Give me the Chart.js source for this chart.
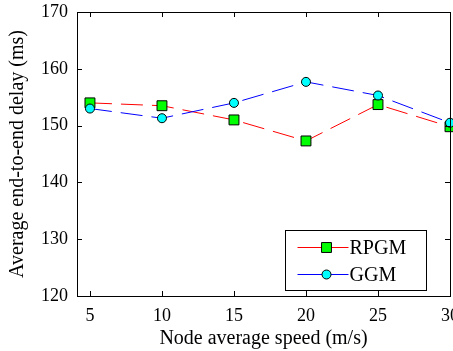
<!DOCTYPE html>
<html>
<head>
<meta charset="utf-8">
<script src="https://cdn.jsdelivr.net/npm/chart.js@4/dist/chart.umd.min.js"></script>
<style>
  html, body { margin: 0; padding: 0; background: #fff; }
  canvas { display: block; }
</style>
</head>
<body>
<canvas id="myChart" width="453" height="351"></canvas>
<script>
var speeds = [5, 10, 15, 20, 25, 30];
var rpgmDelay = [154.0, 153.5, 151.0, 147.3, 153.7, 149.8];
var ggmDelay = [153.0, 151.3, 154.0, 157.7, 155.3, 150.5];
var xTicks = [5, 10, 15, 20, 25, 30];
var yTicks = [120, 130, 140, 150, 160, 170];

var serif = "'Liberation Serif', 'DejaVu Serif', serif";

function toPoints(ys) {
  return speeds.map(function (x, i) { return { x: x, y: ys[i] }; });
}

// labels at the ends may stick out of the axis box, as in the original
function noPadding(s) {
  s.paddingLeft = s.paddingRight = s.paddingTop = s.paddingBottom = 0;
}

// box round the plot with ticks pointing inwards, like MATLAB
var framePlugin = {
  id: 'frame',
  afterDatasetsDraw: function (chart) {
    var ctx = chart.ctx;
    var a = chart.chartArea;
    var xs = chart.scales.x, ys = chart.scales.y;
    var len = 5;
    ctx.save();
    ctx.strokeStyle = '#000';
    ctx.lineWidth = 1;
    ctx.beginPath();
    xs.ticks.forEach(function (t) {
      var px = Math.round(xs.getPixelForValue(t.value)) + 0.5;
      ctx.moveTo(px, a.bottom); ctx.lineTo(px, a.bottom - len);
      ctx.moveTo(px, a.top); ctx.lineTo(px, a.top + len);
    });
    ys.ticks.forEach(function (t) {
      var py = Math.round(ys.getPixelForValue(t.value)) + 0.5;
      ctx.moveTo(a.left, py); ctx.lineTo(a.left + len, py);
      ctx.moveTo(a.right, py); ctx.lineTo(a.right - len, py);
    });
    ctx.stroke();
    ctx.strokeRect(Math.round(a.left) + 0.5, Math.round(a.top) + 0.5,
      Math.round(a.right - a.left), Math.round(a.bottom - a.top));
    ctx.restore();
  }
};

var legendPlugin = {
  id: 'boxLegend',
  afterDraw: function (chart) {
    var ctx = chart.ctx;
    var a = chart.chartArea;
    var w = 141, h = 60;
    var bx = Math.round(a.right - 24 - w) + 0.5;
    var by = Math.round(a.bottom - 6 - h) + 0.5;
    ctx.save();
    ctx.fillStyle = '#fff';
    ctx.fillRect(bx, by, w, h);
    ctx.strokeStyle = '#000';
    ctx.lineWidth = 1;
    ctx.strokeRect(bx, by, w, h);
    ctx.font = '20px ' + serif;
    ctx.textBaseline = 'middle';
    chart.data.datasets.forEach(function (ds, i) {
      var cy = by + 17 + i * 27;
      ctx.strokeStyle = ds.borderColor;
      ctx.lineWidth = 1;
      ctx.beginPath();
      ctx.moveTo(bx + 12, cy); ctx.lineTo(bx + 63, cy);
      ctx.stroke();
      ctx.fillStyle = ds.pointBackgroundColor;
      ctx.strokeStyle = '#000';
      Chart.helpers.drawPoint(ctx, {
        pointStyle: ds.pointStyle, radius: ds.pointRadius, borderWidth: 1
      }, bx + 41, cy);
      ctx.fillStyle = '#000';
      ctx.fillText(ds.label, bx + 64, cy + 1);
    });
    ctx.restore();
  }
};

var ctx = document.getElementById('myChart').getContext('2d');
var myChart = new Chart(ctx, {
  type: 'line',
  data: {
    datasets: [{
      label: 'RPGM',
      data: toPoints(rpgmDelay),
      borderColor: '#ff0000',
      borderWidth: 1,
      borderDash: [22, 9],
      pointStyle: 'rect',
      pointRadius: 7,
      pointBackgroundColor: '#00ff00',
      pointBorderColor: '#000',
      pointBorderWidth: 1,
      clip: 10,
      order: 1
    }, {
      label: 'GGM',
      data: toPoints(ggmDelay),
      borderColor: '#0000ff',
      borderWidth: 1,
      borderDash: [22, 9],
      pointStyle: 'circle',
      pointRadius: 4.5,
      pointBackgroundColor: '#00ffff',
      pointBorderColor: '#000',
      pointBorderWidth: 1,
      clip: 10,
      order: 0
    }]
  },
  options: {
    responsive: false,
    devicePixelRatio: 1,
    animation: false,
    layout: { autoPadding: false, padding: { top: 12, right: 3, left: 0, bottom: 0 } },
    plugins: {
      legend: { display: false },
      tooltip: { enabled: false }
    },
    scales: {
      x: {
        type: 'linear',
        min: 4.1,
        max: 30,
        afterBuildTicks: function (s) { s.ticks = xTicks.map(function (v) { return { value: v }; }); },
        afterFit: function (s) { s.height = 55; noPadding(s); },
        grid: { display: false, drawTicks: false },
        border: { display: false },
        ticks: { color: '#000', padding: 9, maxRotation: 0, font: { family: serif, size: 18 } },
        title: {
          display: true,
          text: 'Node average speed (m/s)',
          color: '#000',
          padding: { top: 0, bottom: 0 },
          font: { family: serif, size: 20 }
        }
      },
      y: {
        min: 120,
        max: 170,
        afterBuildTicks: function (s) { s.ticks = yTicks.map(function (v) { return { value: v }; }); },
        afterFit: function (s) { s.width = 77; noPadding(s); },
        grid: { display: false, drawTicks: false },
        border: { display: false },
        ticks: { color: '#000', padding: 9, font: { family: serif, size: 18 } },
        title: {
          display: true,
          text: 'Average end-to-end delay (ms)',
          color: '#000',
          padding: { top: 6, bottom: 0 },
          font: { family: serif, size: 20 }
        }
      }
    }
  },
  plugins: [framePlugin, legendPlugin]
});
</script>
</body>
</html>
